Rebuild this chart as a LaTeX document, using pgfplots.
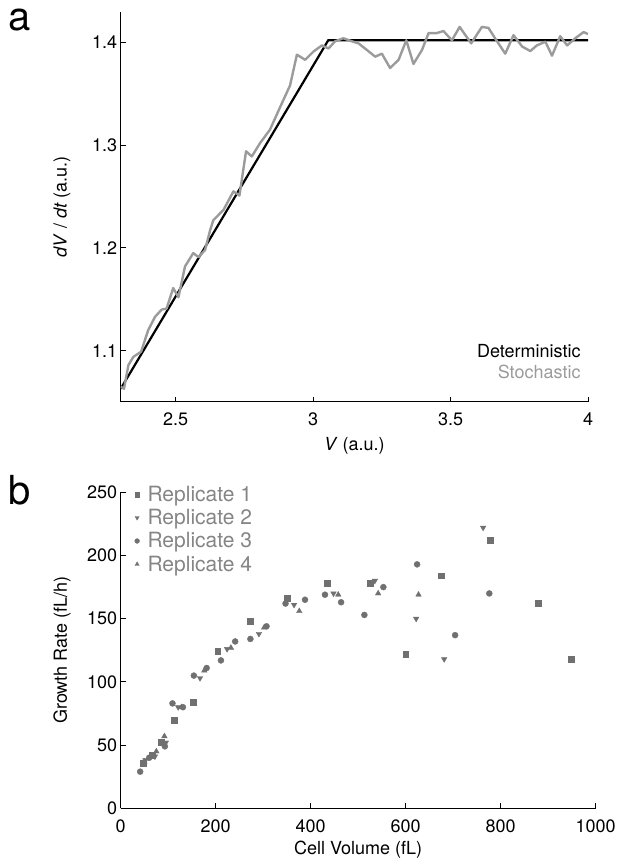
\documentclass[border=0pt]{standalone}
\usepackage{fontspec}
\setmainfont{TeX Gyre Heros}
\usepackage{pgfplots}
\pgfplotsset{compat=1.18}
\definecolor{stoch}{HTML}{9B9B9B}
\definecolor{mk}{HTML}{707070}
\definecolor{legtxt}{HTML}{858585}
\begin{document}
\begin{tikzpicture}[font=\fontsize{18bp}{21bp}\selectfont]
\path[use as bounding box] (0,0) rectangle (619bp,-863bp);
\pgfplotsset{
  every axis/.append style={
    scale only axis,
    axis x line*=bottom, axis y line*=left,
    axis line style={-, line width=0.9bp},
    tick align=inside, major tick length=5bp,
    every tick/.style={black, line width=0.9bp},
    /pgf/number format/assume math mode=true,
    /pgf/number format/1000 sep={},
    scaled ticks=false,
    tick label style={font=\fontsize{18bp}{21bp}\selectfont},
    xticklabel style={yshift=-8bp},
    label style={font=\fontsize{18bp}{21bp}\selectfont},
  }
}
\node[font=\fontsize{40bp}{42bp}\selectfont] at (20bp,-20bp) {a};
\node[font=\fontsize{40bp}{42bp}\selectfont] at (20bp,-490bp) {b};
\begin{axis}[
  at={(120.7bp,-401.7bp)}, anchor=south west,
  width=467.3bp, height=390bp,
  xmin=2.3, xmax=4, ymin=1.0504, ymax=1.4298,
  xtick={2.5,3,3.5,4}, ytick={1.1,1.2,1.3,1.4},
  xticklabel style={/pgf/number format/fixed, /pgf/number format/precision=1},
  yticklabel style={/pgf/number format/fixed, /pgf/number format/fixed zerofill, /pgf/number format/precision=1},
  xlabel={\textit{V} (a.u.)},
  ylabel={\textit{dV} / \textit{dt} (a.u.)},
  xlabel style={at={(axis description cs:0.5,-0.1136)}, anchor=center},
  ylabel style={at={(axis description cs:-0.1256,0.5)}, anchor=center},
  legend style={at={(0.995,0.045)}, anchor=south east, draw=none, fill=none,
    font=\fontsize{18bp}{21bp}\selectfont, cells={anchor=east}, row sep=2bp},
  legend image code/.code={},
]
\addplot[black, line width=2.2bp] coordinates {(2.3,1.063) (3.055,1.402) (4,1.402)};
\addlegendentry{\textcolor{black}{Deterministic}}
\addplot[stoch, line width=2.4bp, line join=round] coordinates {
(2.300,1.065) (2.312,1.063) (2.328,1.086) (2.346,1.094) (2.374,1.099)
(2.400,1.120) (2.425,1.133) (2.449,1.140) (2.467,1.141) (2.491,1.161)
(2.510,1.152) (2.534,1.182) (2.564,1.195) (2.583,1.191) (2.607,1.198)
(2.625,1.217) (2.637,1.227) (2.674,1.237) (2.710,1.255) (2.732,1.251)
(2.756,1.294) (2.777,1.289) (2.807,1.302) (2.843,1.315) (2.880,1.337)
(2.916,1.358) (2.941,1.388) (2.971,1.383) (3.001,1.391) (3.032,1.397)
(3.056,1.394) (3.080,1.401) (3.110,1.404) (3.141,1.401) (3.165,1.399)
(3.196,1.3925) (3.226,1.386) (3.250,1.389) (3.280,1.375) (3.311,1.383)
(3.339,1.402) (3.365,1.379) (3.396,1.3925) (3.420,1.409) (3.450,1.409)
(3.474,1.411) (3.505,1.402) (3.533,1.415) (3.575,1.399) (3.614,1.415)
(3.638,1.414) (3.669,1.401) (3.699,1.389) (3.729,1.407) (3.760,1.396)
(3.790,1.3915) (3.814,1.397) (3.845,1.4006) (3.869,1.387) (3.899,1.406)
(3.924,1.397) (3.954,1.404) (3.984,1.410) (4.000,1.408)};
\addlegendentry{\textcolor{stoch}{Stochastic}}
\end{axis}
\begin{axis}[
  at={(120.7bp,-808.3bp)}, anchor=south west,
  width=475bp, height=316bp,
  xmin=0, xmax=1000, ymin=0, ymax=250,
  xtick={0,200,400,600,800,1000}, ytick={0,50,100,150,200,250},
  xlabel={Cell Volume (fL)},
  ylabel={Growth Rate (fL/h)},
  xlabel style={at={(axis description cs:0.5,-0.132)}, anchor=center},
  ylabel style={at={(axis description cs:-0.1236,0.5)}, anchor=center},
  legend style={at={(0.027,1.03)}, anchor=north west, draw=none, fill=none,
    font=\fontsize{21bp}{24bp}\selectfont, text=legtxt, row sep=2.5bp,
    inner sep=1bp, /tikz/every odd column/.append style={column sep=6bp}},
  legend cell align=left,
  legend image code/.code={\draw[#1, mark size=2.4bp] plot coordinates {(0bp,0bp)};},
]
\addplot[only marks, mark=square*, mark size=2.9bp, color=mk] coordinates {
(47,36) (67,42) (85,52) (113,70) (153,84) (204,124) (273,148) (350,166)
(435,178) (526,178) (600,122) (674,184) (778,212) (879,162) (949,118)};
\addlegendentry{Replicate 1}
\addplot[only marks, mark=triangle*, mark size=3.2bp, mark options={rotate=180}, color=mk] coordinates {
(52,38) (72,41) (95,52) (121,80) (167,103) (224,126) (291,138) (365,161)
(448,170) (535,180) (622,150) (681,118) (763,222)};
\addlegendentry{Replicate 2}
\addplot[only marks, mark=*, mark size=3bp, color=mk] coordinates {
(41,29) (60,40) (93,49) (109,83) (131,80) (154,105) (181,111) (211,117)
(241,132) (273,134) (307,144) (347,162) (388,165) (430,169) (464,163)
(513,153) (553,175) (624,193) (704,137) (776,170)};
\addlegendentry{Replicate 3}
\addplot[only marks, mark=triangle*, mark size=3.2bp, color=mk] coordinates {
(50,37) (75,45) (92,57) (128,80) (176,109) (232,127) (302,143) (376,156)
(458,169) (542,170) (627,169)};
\addlegendentry{Replicate 4}
\end{axis}
\end{tikzpicture}
\end{document}
